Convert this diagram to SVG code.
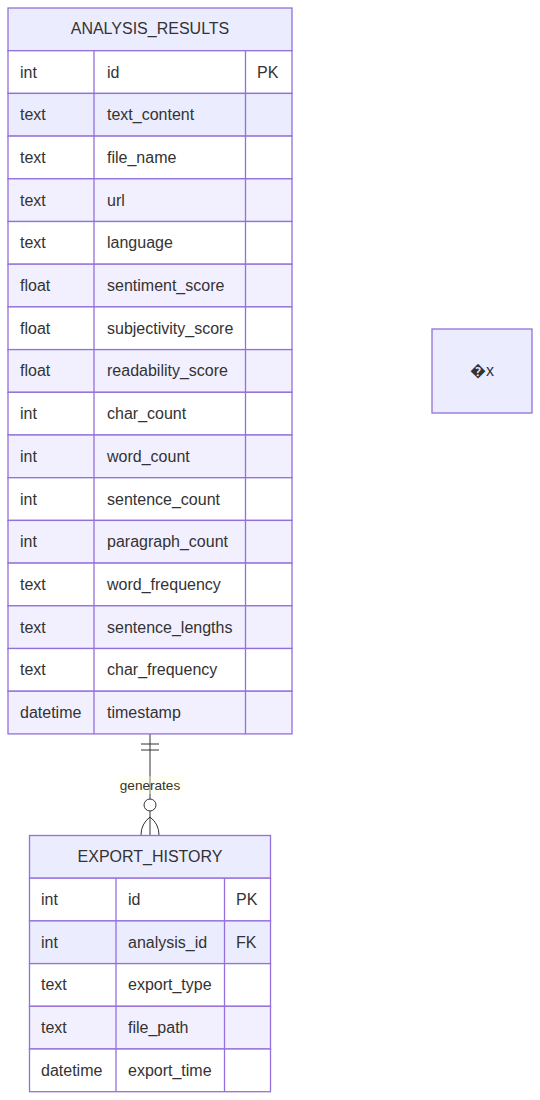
<svg xmlns="http://www.w3.org/2000/svg" width="540" height="1100" viewBox="0 0 540 1100">
<style>
text{font-family:"Liberation Sans",Arial,sans-serif;fill:#333;font-size:16px;}
.hdr{fill:#ECECFF;stroke:#9370DB;stroke-width:1.3;}
.odd{fill:#ffffff;stroke:#9370DB;stroke-width:1.3;}
.ev1{fill:#ECECFF;stroke:#9370DB;stroke-width:1.3;}
.ev{fill:#F2F0FF;stroke:#9370DB;stroke-width:1.3;}
.col{stroke:#9370DB;stroke-width:1.3;}
.ctr{text-anchor:middle;}
.rel{stroke:#333;stroke-width:1;fill:none;}
.lbl{font-size:13.6px;}
</style>
<rect width="540" height="1100" fill="#ffffff"/>
<g id="connectors">
<line class="rel" x1="150" y1="734" x2="150" y2="835"/>
<line class="rel" x1="141" y1="744" x2="159" y2="744"/>
<line class="rel" x1="141" y1="750" x2="159" y2="750"/>
<rect x="117" y="776" width="66" height="18" fill="#ffffde" fill-opacity="0.35"/>
<text class="lbl ctr" x="150" y="790">generates</text>
<circle cx="150" cy="805" r="6" fill="#ffffff" stroke="#333" stroke-width="1"/>
<path class="rel" d="M141,835 Q141,824 150,817 Q159,824 159,835"/>
</g>
<g id="ANALYSIS_RESULTS">
<rect class="hdr" x="8" y="8" width="284" height="42.7"/>
<text class="ctr" x="150" y="34">ANALYSIS_RESULTS</text>
<rect class="odd" x="8" y="50.7" width="284" height="42.7"/>
<rect class="ev1" x="8" y="93.4" width="284" height="42.7"/>
<rect class="odd" x="8" y="136.1" width="284" height="42.7"/>
<rect class="ev" x="8" y="178.8" width="284" height="42.7"/>
<rect class="odd" x="8" y="221.5" width="284" height="42.7"/>
<rect class="ev" x="8" y="264.2" width="284" height="42.7"/>
<rect class="odd" x="8" y="306.9" width="284" height="42.7"/>
<rect class="ev" x="8" y="349.6" width="284" height="42.7"/>
<rect class="odd" x="8" y="392.3" width="284" height="42.7"/>
<rect class="ev" x="8" y="435" width="284" height="42.7"/>
<rect class="odd" x="8" y="477.7" width="284" height="42.7"/>
<rect class="ev" x="8" y="520.4" width="284" height="42.7"/>
<rect class="odd" x="8" y="563.1" width="284" height="42.7"/>
<rect class="ev" x="8" y="605.8" width="284" height="42.7"/>
<rect class="odd" x="8" y="648.5" width="284" height="42.7"/>
<rect class="ev" x="8" y="691.2" width="284" height="42.7"/>
<line class="col" x1="94" y1="50.7" x2="94" y2="733.9"/>
<line class="col" x1="245.5" y1="50.7" x2="245.5" y2="733.9"/>
<text x="20" y="77.5">int</text><text x="107" y="77.5">id</text><text x="257" y="77.5">PK</text>
<text x="20" y="120.2">text</text><text x="107" y="120.2">text_content</text>
<text x="20" y="162.9">text</text><text x="107" y="162.9">file_name</text>
<text x="20" y="205.6">text</text><text x="107" y="205.6">url</text>
<text x="20" y="248.3">text</text><text x="107" y="248.3">language</text>
<text x="20" y="291">float</text><text x="107" y="291">sentiment_score</text>
<text x="20" y="333.7">float</text><text x="107" y="333.7">subjectivity_score</text>
<text x="20" y="376.4">float</text><text x="107" y="376.4">readability_score</text>
<text x="20" y="419.1">int</text><text x="107" y="419.1">char_count</text>
<text x="20" y="461.8">int</text><text x="107" y="461.8">word_count</text>
<text x="20" y="504.5">int</text><text x="107" y="504.5">sentence_count</text>
<text x="20" y="547.2">int</text><text x="107" y="547.2">paragraph_count</text>
<text x="20" y="589.9">text</text><text x="107" y="589.9">word_frequency</text>
<text x="20" y="632.6">text</text><text x="107" y="632.6">sentence_lengths</text>
<text x="20" y="675.3">text</text><text x="107" y="675.3">char_frequency</text>
<text x="20" y="718">datetime</text><text x="107" y="718">timestamp</text>
</g>
<g id="EXPORT_HISTORY">
<rect class="hdr" x="29.5" y="835.5" width="241" height="42.7"/>
<text class="ctr" x="150" y="862">EXPORT_HISTORY</text>
<rect class="odd" x="29.5" y="878.2" width="241" height="42.7"/>
<rect class="ev1" x="29.5" y="920.9" width="241" height="42.7"/>
<rect class="odd" x="29.5" y="963.6" width="241" height="42.7"/>
<rect class="ev" x="29.5" y="1006.3" width="241" height="42.7"/>
<rect class="odd" x="29.5" y="1049" width="241" height="42.7"/>
<line class="col" x1="116" y1="878.2" x2="116" y2="1091.7"/>
<line class="col" x1="224.5" y1="878.2" x2="224.5" y2="1091.7"/>
<text x="41" y="905">int</text><text x="128" y="905">id</text><text x="236" y="905">PK</text>
<text x="41" y="947.7">int</text><text x="128" y="947.7">analysis_id</text><text x="236" y="947.7">FK</text>
<text x="41" y="990.4">text</text><text x="128" y="990.4">export_type</text>
<text x="41" y="1033.1">text</text><text x="128" y="1033.1">file_path</text>
<text x="41" y="1075.8">datetime</text><text x="128" y="1075.8">export_time</text>
</g>
<g id="unknown">
<rect class="hdr" x="432" y="329" width="100" height="84"/>
<text class="ctr" x="482" y="376">&#xFFFD;x</text>
</g>
</svg>
